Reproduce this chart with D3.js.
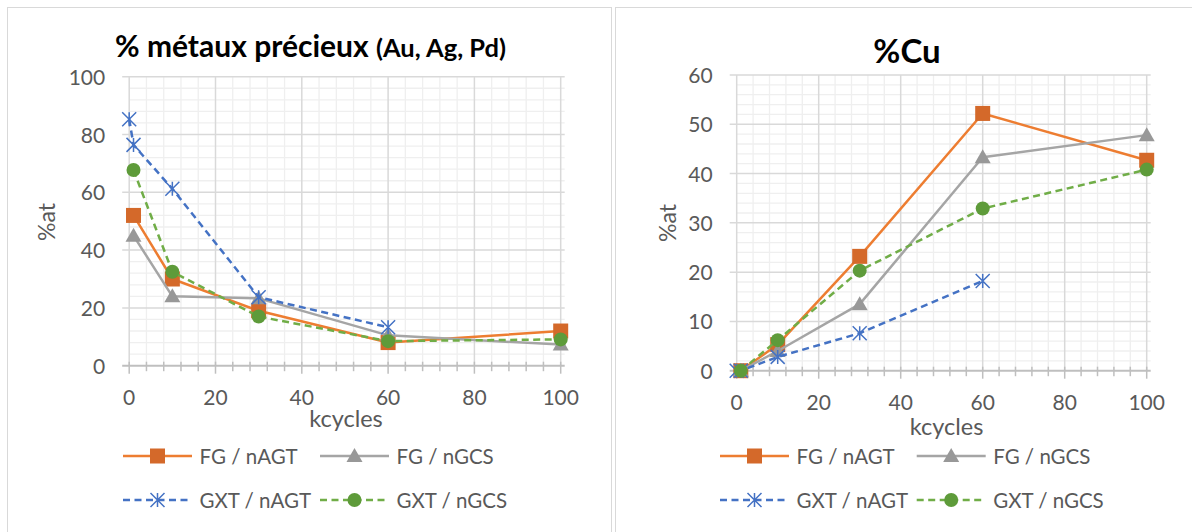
<!DOCTYPE html>
<html>
<head>
<meta charset="utf-8">
<script src="https://cdn.jsdelivr.net/npm/d3@7"></script>
<style>
  html, body { margin: 0; padding: 0; background: #fff; }
  svg { display: block; font-family: Lato, "Liberation Sans", sans-serif; }
</style>
</head>
<body>
<svg id="chart" width="1192" height="532"></svg>
<script>
// ---------- DATA ----------
const seriesNames = ["FG / nAGT", "FG / nGCS", "GXT / nAGT", "GXT / nGCS"];
const kcycles = [1, 10, 30, 60, 100];
const kcyclesGxtAgt = [0, 1, 10, 30, 60];

// % métaux précieux (Au, Ag, Pd)
const pmFG_nAGT  = [52, 30, 19, 8, 12];
const pmFG_nGCS  = [45, 24, 23.3, 10.5, 7.3];
const pmGXT_nAGT = [85.3, 76.4, 61.2, 23.7, 13.3];
const pmGXT_nGCS = [67.7, 32.5, 17, 8.5, 9.1];

// %Cu
const cuFG_nAGT  = [0, 5.3, 23.2, 52.2, 42.7];
const cuFG_nGCS  = [0, 4, 13.5, 43.3, 47.8];
const cuGXT_nAGT = [0, 0, 2.8, 7.6, 18.2];
const cuGXT_nGCS = [0, 6.2, 20.3, 32.9, 40.8];

const xTicks = [0, 20, 40, 60, 80, 100];
const yTicksPM = [0, 20, 40, 60, 80, 100];
const yTicksCu = [0, 10, 20, 30, 40, 50, 60];

// ---------- STYLE ----------
const styles = [
  { line: "#ED7D31", marker: "square",   fill: "#D4692A", dash: null },
  { line: "#A5A5A5", marker: "triangle", fill: "#989898", dash: null },
  { line: "#4472C4", marker: "star",     fill: "#4472C4", dash: "7,4.5" },
  { line: "#70AD47", marker: "circle",   fill: "#5E9B3A", dash: "7,4.5" }
];

const svg = d3.select("#chart");

// panel borders
svg.append("rect").attr("x", 7.5).attr("y", 7.5).attr("width", 604).attr("height", 600)
  .attr("fill", "none").attr("stroke", "#D9D9D9").attr("stroke-width", 1);
svg.append("rect").attr("x", 615.5).attr("y", 7.5).attr("width", 600).attr("height", 600)
  .attr("fill", "none").attr("stroke", "#D9D9D9").attr("stroke-width", 1);

function drawMarker(g, type, cx, cy, fill) {
  if (type === "square") {
    g.append("rect").attr("x", cx - 7.5).attr("y", cy - 7.5).attr("width", 15).attr("height", 15)
      .attr("fill", fill);
  } else if (type === "triangle") {
    g.append("path").attr("d", `M${cx},${cy - 8}L${cx + 8},${cy + 6}L${cx - 8},${cy + 6}Z`)
      .attr("fill", fill);
  } else if (type === "circle") {
    g.append("circle").attr("cx", cx).attr("cy", cy).attr("r", 7).attr("fill", fill);
  } else if (type === "star") {
    const r = 7;
    g.append("path")
      .attr("d", `M${cx - r},${cy - r}L${cx + r},${cy + r}M${cx - r},${cy + r}L${cx + r},${cy - r}M${cx},${cy - r}L${cx},${cy + r}`)
      .attr("stroke", fill).attr("stroke-width", 1.5).attr("fill", "none");
  }
}

function drawChart(cfg) {
  const g = svg.append("g");
  const x = d3.scaleLinear().domain([0, 100]).range(cfg.xRange);
  const y = d3.scaleLinear().domain(cfg.yDomain).range(cfg.yRange);
  const x0 = x(0), x1 = x(100), y0 = y(cfg.yDomain[0]), y1 = y(cfg.yDomain[1]);

  // minor gridlines
  const xMinor = d3.range(0, 101, 4).filter(v => v % 20 !== 0);
  const yMinor = d3.range(cfg.yDomain[0], cfg.yDomain[1] + 0.001, cfg.yMinorStep)
    .filter(v => !cfg.yTicks.includes(v));
  g.selectAll(".vmin").data(xMinor).join("line")
    .attr("x1", d => x(d)).attr("x2", d => x(d)).attr("y1", y1).attr("y2", y0)
    .attr("stroke", "#EFEFEF").attr("stroke-width", 1.3);
  g.selectAll(".hmin").data(yMinor).join("line")
    .attr("x1", x0).attr("x2", x1 + 4).attr("y1", d => y(d)).attr("y2", d => y(d))
    .attr("stroke", "#EFEFEF").attr("stroke-width", 1.3);
  // major gridlines
  g.selectAll(".vmaj").data(xTicks).join("line")
    .attr("x1", d => x(d)).attr("x2", d => x(d)).attr("y1", y1).attr("y2", y0)
    .attr("stroke", "#D9D9D9").attr("stroke-width", 1.5);
  g.selectAll(".hmaj").data(cfg.yTicks.filter(v => v !== cfg.yDomain[0])).join("line")
    .attr("x1", x0 - 7).attr("x2", x1 + 4).attr("y1", d => y(d)).attr("y2", d => y(d))
    .attr("stroke", "#D9D9D9").attr("stroke-width", 1.5);

  // x axis line + ticks
  g.append("line").attr("x1", x0 - 7).attr("x2", x1 + 4).attr("y1", y0).attr("y2", y0)
    .attr("stroke", "#BFBFBF").attr("stroke-width", 2);
  g.selectAll(".xtmin").data(xMinor).join("line")
    .attr("x1", d => x(d)).attr("x2", d => x(d)).attr("y1", y0 - 4).attr("y2", y0 + 5.5)
    .attr("stroke", "#BFBFBF").attr("stroke-width", 1.5);
  g.selectAll(".xtmaj").data(xTicks).join("line")
    .attr("x1", d => x(d)).attr("x2", d => x(d)).attr("y1", y0 - 4).attr("y2", y0 + 8)
    .attr("stroke", "#BFBFBF").attr("stroke-width", 1.5);

  // tick labels
  g.selectAll(".xl").data(xTicks).join("text")
    .attr("x", d => x(d)).attr("y", cfg.xLabelBaseline)
    .attr("text-anchor", "middle").attr("font-size", 21).attr("fill", "#595959")
    .text(d => d);
  g.selectAll(".yl").data(cfg.yTicks).join("text")
    .attr("x", x0 - 24).attr("y", d => y(d) + 8)
    .attr("text-anchor", "end").attr("font-size", 21).attr("fill", "#595959")
    .text(d => d);

  // axis titles
  g.append("text").attr("transform", `translate(${cfg.yTitleX},${cfg.yTitleY}) rotate(-90)`)
    .attr("text-anchor", "middle").attr("font-size", 23).attr("fill", "#595959").text("%at");
  g.append("text").attr("x", cfg.xTitleX).attr("y", cfg.xTitleY)
    .attr("text-anchor", "middle").attr("font-size", 23.5).attr("fill", "#595959").text("kcycles");

  // series
  const line = d3.line().x(d => x(d[0])).y(d => y(d[1]));
  cfg.series.forEach((s, i) => {
    const st = styles[i];
    const pts = s.xs.map((v, j) => [v, s.ys[j]]);
    const sg = g.append("g");
    sg.append("path").attr("d", line(pts)).attr("fill", "none")
      .attr("stroke", st.line).attr("stroke-width", 2.5)
      .attr("stroke-dasharray", st.dash).attr("stroke-linejoin", "round");
    pts.forEach(p => drawMarker(sg, st.marker, x(p[0]), y(p[1]), st.fill));
  });

  // legend
  const lg = g.append("g");
  seriesNames.forEach((name, i) => {
    const st = styles[i];
    const col = i % 2, row = Math.floor(i / 2);
    const lx = cfg.legendX[col], ly = cfg.legendY[row];
    lg.append("line").attr("x1", lx).attr("x2", lx + 69).attr("y1", ly).attr("y2", ly)
      .attr("stroke", st.line).attr("stroke-width", 2.5).attr("stroke-dasharray", st.dash);
    drawMarker(lg, st.marker, lx + 34.5, ly, st.fill);
    lg.append("text").attr("x", lx + 76.5).attr("y", ly + 7.5)
      .attr("font-size", 20.5).attr("fill", "#595959").text(name);
  });
}

drawChart({
  xRange: [129.2, 560.7], yDomain: [0, 100], yRange: [365.7, 76.7],
  yTicks: yTicksPM, yMinorStep: 4, xLabelBaseline: 405,
  yTitleX: 55, yTitleY: 222, xTitleX: 346, xTitleY: 427,
  legendX: [123, 320], legendY: [456, 500],
  series: [
    { xs: kcycles, ys: pmFG_nAGT },
    { xs: kcycles, ys: pmFG_nGCS },
    { xs: kcyclesGxtAgt, ys: pmGXT_nAGT },
    { xs: kcycles, ys: pmGXT_nGCS }
  ]
});

drawChart({
  xRange: [736.7, 1146.7], yDomain: [0, 60], yRange: [370.7, 75],
  yTicks: yTicksCu, yMinorStep: 2, xLabelBaseline: 410,
  yTitleX: 676, yTitleY: 223, xTitleX: 946.6, xTitleY: 435,
  legendX: [720, 916.7], legendY: [456, 500],
  series: [
    { xs: kcycles, ys: cuFG_nAGT },
    { xs: kcycles, ys: cuFG_nGCS },
    { xs: kcyclesGxtAgt, ys: cuGXT_nAGT },
    { xs: kcycles, ys: cuGXT_nGCS }
  ]
});

// titles
const t1 = svg.append("text").attr("x", 115).attr("y", 57)
  .attr("font-weight", "bold").attr("fill", "#000");
t1.append("tspan").attr("font-size", 30).text("% métaux précieux ");
t1.append("tspan").attr("font-size", 25.5).text("(Au, Ag, Pd)");
svg.append("text").attr("x", 907).attr("y", 63).attr("text-anchor", "middle")
  .attr("font-weight", "bold").attr("font-size", 33).attr("fill", "#000").text("%Cu");
</script>
</body>
</html>
